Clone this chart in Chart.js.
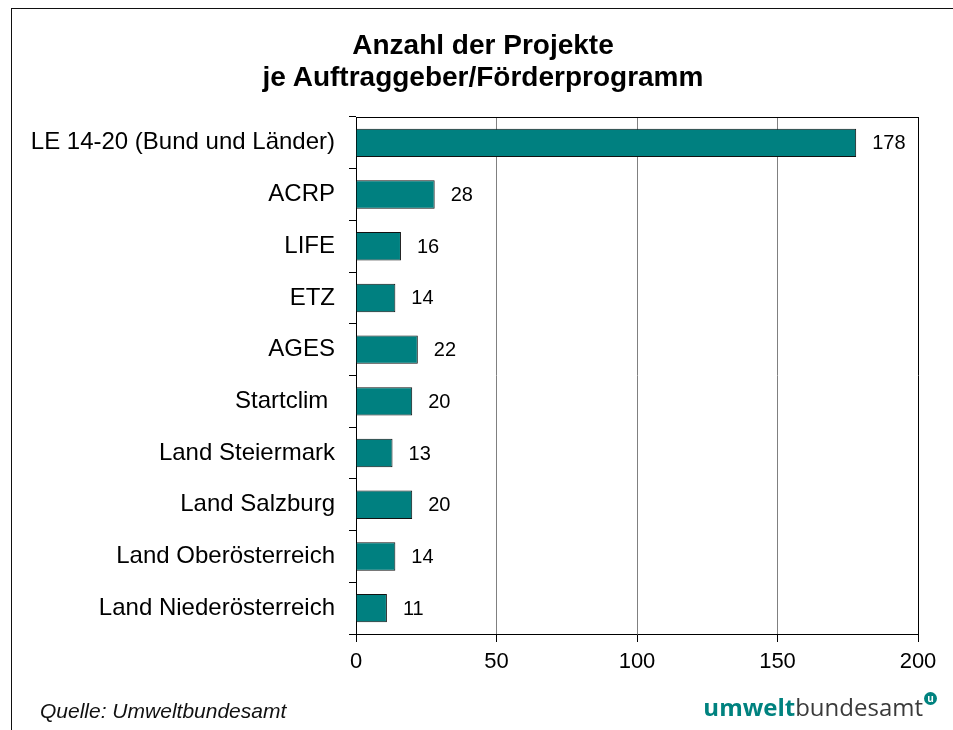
<!DOCTYPE html>
<html>
<head>
<meta charset="utf-8">
<script src="https://cdn.jsdelivr.net/npm/chart.js@4/dist/chart.umd.min.js"></script>
<style>
  body { margin: 0; background: #fff; }
  #wrap { position: relative; width: 953px; height: 730px; overflow: hidden; }
  #frame { position: absolute; left: 11px; top: 8px; right: -5px; bottom: -5px; border-top: 1.5px solid #111; border-left: 1.5px solid #111; }
  #title { position: absolute; left: 0; width: 966px; top: 29px; text-align: center; font: bold 28px/32px "Liberation Sans", Arial, sans-serif; color: #000; }
  #source { position: absolute; left: 40px; top: 699px; font: italic 21px "Liberation Sans", Arial, sans-serif; color: #111; }
  #logo { position: absolute; right: 16px; top: 692px; font-family: "Open Sans", sans-serif; font-size: 24px; line-height: 28px; white-space: nowrap; }
  #logo b { color: #00827f; font-weight: 700; }
  #logo span.rest { color: #3a3a3a; font-weight: 400; }
  #logo i { display: inline-block; width: 13px; height: 13px; border-radius: 50%; background: #00827f; color: #fff; font: bold 10px/12px "Open Sans", sans-serif; text-align: center; vertical-align: 14px; margin-left: 1px; font-style: normal; }
</style>
</head>
<body>
<div id="wrap">
  <canvas id="chart" width="953" height="730"></canvas>
  <div id="frame"></div>
  <div id="title"></div>
  <div id="source">Quelle: Umweltbundesamt</div>
  <div id="logo"><b>umwelt</b><span class="rest">bundesamt</span><i>u</i></div>
</div>
<script>
const titleLines = ['Anzahl der Projekte', 'je Auftraggeber/Förderprogramm'];
const categories = [
    'LE 14-20 (Bund und Länder)', 'ACRP', 'LIFE', 'ETZ', 'AGES',
    'Startclim ', 'Land Steiermark', 'Land Salzburg', 'Land Oberösterreich', 'Land Niederösterreich'
];
const projectCounts = [178, 28, 16, 14, 22, 20, 13, 20, 14, 11];
const xTicks = [0, 50, 100, 150, 200];

const FONT = '"Liberation Sans", Arial, sans-serif';

// title sits a bit right of the canvas centre in the original, so it's plain html
document.getElementById('title').innerHTML = titleLines.join('<br>');

// value labels to the right of each bar + black top border of the plot
const barLabels = {
    id: 'barLabels',
    afterDatasetsDraw(chart) {
        const ctx = chart.ctx;
        const meta = chart.getDatasetMeta(0);
        ctx.save();
        ctx.font = '20px ' + FONT;
        ctx.fillStyle = '#000';
        ctx.textAlign = 'left';
        ctx.textBaseline = 'middle';
        meta.data.forEach((bar, i) => {
            ctx.fillText(String(projectCounts[i]), bar.x + 16, bar.y + 1);
        });
        const a = chart.chartArea;
        ctx.strokeStyle = '#000';
        ctx.lineWidth = 1;
        ctx.beginPath();
        ctx.moveTo(a.left, a.top + 0.5);
        ctx.lineTo(a.right, a.top + 0.5);
        ctx.stroke();
        ctx.restore();
    }
};

new Chart(document.getElementById('chart'), {
    type: 'bar',
    data: {
        labels: categories,
        datasets: [{
            data: projectCounts,
            backgroundColor: '#008080',
            borderColor: '#111',
            borderWidth: 1,
            barPercentage: 0.55,
            categoryPercentage: 1
        }]
    },
    options: {
        indexAxis: 'y',
        responsive: false,
        animation: false,
        layout: { padding: { left: 0, right: 35, top: 117, bottom: 0 } },
        plugins: {
            legend: { display: false },
            tooltip: { enabled: false },
            title: { display: false }
        },
        scales: {
            x: {
                min: 0,
                max: 200,
                afterBuildTicks: scale => { scale.ticks = xTicks.map(v => ({ value: v })); },
                afterFit: scale => { scale.height = 96; },
                ticks: { color: '#000', font: { family: FONT, size: 22 }, padding: 7, maxRotation: 0 },
                grid: {
                    color: c => (c.tick && c.tick.value === 200) ? '#000' : '#808080',
                    tickColor: '#000',
                    tickLength: 8,
                    lineWidth: 1
                },
                border: { color: '#000', width: 1 }
            },
            y: {
                afterFit: scale => { scale.width = 356; },
                ticks: { color: '#000', font: { family: FONT, size: 24 }, padding: 14 },
                grid: { drawOnChartArea: false, tickColor: '#000', tickLength: 7, offset: true },
                border: { color: '#000', width: 1 }
            }
        }
    },
    plugins: [barLabels]
});
</script>
</body>
</html>
